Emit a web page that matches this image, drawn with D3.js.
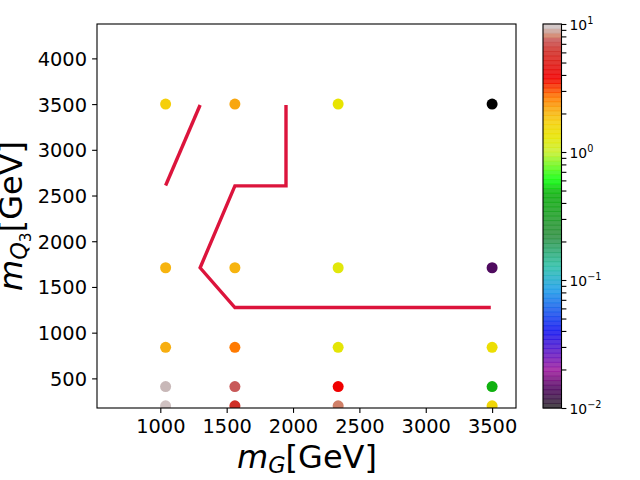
<!DOCTYPE html>
<html>
<head>
<meta charset="utf-8">
<script src="https://d3js.org/d3.v7.min.js"></script>
<style>
    html, body { margin: 0; padding: 0; background: #fff; }
    svg { display: block; font-family: "DejaVu Sans", sans-serif; }
    .domain, .tick line { stroke: #000; stroke-width: 1.1px; }
</style>
</head>
<body>
<div id="chart"></div>
<script>
// grid of the scan
const massG = [1040, 1562, 2340, 3500];
const massQ3 = [3500, 1710, 840, 410, 200];

// colour value, one row per massQ3, one column per massG
const values = [
    [1.72, 2.19, 1.35, 0.008],
    [2.04, 2.04, 1.26, 0.014],
    [2.11, 2.69, 1.30, 1.45],
    [9.33, 7.59, 3.80, 0.48],
    [9.66, 6.17, 8.13, 1.58]
];

// exclusion contour, two separate pieces
const contourLeft = [[1040, 2610], [1300, 3490]];
const contourRight = [[1947, 3490], [1947, 2605], [1562, 2605], [1300, 1710], [1562, 1275], [3490, 1275]];

const xTicks = [1000, 1500, 2000, 2500, 3000, 3500];
const yTicks = [500, 1000, 1500, 2000, 2500, 3000, 3500, 4000];

// colormap stops, position along the log range and colour
const cmapPos = [0, 0.05, 0.1, 0.2, 0.31, 0.37, 0.45, 0.56, 0.595, 0.667, 0.71, 0.745, 0.775, 0.81, 0.86, 0.93, 0.96, 0.97, 0.99, 1];
const cmapCol = ["#303030", "#500a60", "#a020a0", "#1818f0", "#20a0e8", "#30c0a8", "#309040", "#10b010", "#10ff10", "#c8f030",
    "#e8e400", "#f5cf0a", "#f7ae10", "#ff7a00", "#f00000", "#d03028", "#c85858", "#d08068", "#c8b8b8", "#d8cccc"];

const width = 640, height = 480;
const margin = {top: 24, right: 124, bottom: 72, left: 97};

const svg = d3.select("#chart").append("svg")
    .attr("width", width)
    .attr("height", height);

const x = d3.scaleLinear().domain([523, 3680]).range([margin.left, width - margin.right]);
const y = d3.scaleLinear().domain([176, 4376]).range([height - margin.bottom, margin.top]);

const colorLog = d3.scaleLog().domain([0.01, 10]).range([0, 1]);
const colorPos = d3.scaleLinear().domain(cmapPos).range(cmapCol).interpolate(d3.interpolateRgb).clamp(true);
const colorOf = v => v < 0.01 ? "#000" : colorPos(colorLog(v));

svg.append("clipPath").attr("id", "plot-clip")
    .append("rect")
    .attr("x", margin.left)
    .attr("y", margin.top)
    .attr("width", width - margin.right - margin.left)
    .attr("height", height - margin.bottom - margin.top);

// points
const points = massQ3.flatMap((q, i) => massG.map((g, j) => ({g: g, q: q, v: values[i][j]})));
svg.append("g")
    .attr("clip-path", "url(#plot-clip)")
    .selectAll("circle")
    .data(points)
    .enter().append("circle")
    .attr("cx", d => x(d.g))
    .attr("cy", d => y(d.q))
    .attr("r", 5.5)
    .attr("fill", d => colorOf(d.v));

// contour
const line = d3.line().x(d => x(d[0])).y(d => y(d[1]));
svg.selectAll(".contour")
    .data([contourLeft, contourRight])
    .enter().append("path")
    .attr("class", "contour")
    .attr("d", line)
    .attr("fill", "none")
    .attr("stroke", "#dc143c")
    .attr("stroke-width", 3.4)
    .attr("stroke-linejoin", "miter");

// axes
svg.append("rect")
    .attr("x", margin.left)
    .attr("y", margin.top)
    .attr("width", width - margin.right - margin.left)
    .attr("height", height - margin.bottom - margin.top)
    .attr("fill", "none")
    .attr("stroke", "#000")
    .attr("stroke-width", 1.1);

const xAxis = svg.append("g")
    .attr("transform", `translate(0, ${height - margin.bottom})`)
    .call(d3.axisBottom(x).tickValues(xTicks).tickSize(4.9).tickSizeOuter(0).tickFormat(d3.format("d")));
const yAxis = svg.append("g")
    .attr("transform", `translate(${margin.left}, 0)`)
    .call(d3.axisLeft(y).tickValues(yTicks).tickSize(4.9).tickSizeOuter(0).tickFormat(d3.format("d")));

[xAxis, yAxis].forEach(a => {
    a.selectAll(".domain").remove();
    a.selectAll("text")
        .attr("font-family", '"DejaVu Sans"')
        .attr("font-size", 19.4)
        .attr("fill", "#000");
});
xAxis.selectAll("text").attr("y", 8).attr("dy", "0.9em");
yAxis.selectAll("text").attr("x", -10).attr("dy", "0.36em");

// axis labels
const xLabel = svg.append("text")
    .attr("x", 307)
    .attr("y", 468)
    .attr("text-anchor", "middle")
    .attr("font-size", 32);
xLabel.append("tspan").attr("font-style", "italic").text("m");
xLabel.append("tspan").attr("font-style", "italic").attr("font-size", 22.4).attr("dy", 5).text("G");
xLabel.append("tspan").attr("dy", -5).text("[GeV]");

const yLabel = svg.append("text")
    .attr("transform", "translate(22, 216) rotate(-90)")
    .attr("text-anchor", "middle")
    .attr("font-size", 32);
yLabel.append("tspan").attr("font-style", "italic").text("m");
yLabel.append("tspan").attr("font-style", "italic").attr("font-size", 22.4).attr("dy", 5).text("Q");
yLabel.append("tspan").attr("font-size", 15.5).attr("dy", 4).text("3");
yLabel.append("tspan").attr("dy", -9).text("[GeV]");

// colorbar
const barLeft = 543, barWidth = 18.5;
const barScale = d3.scaleLog().domain([0.01, 10]).range([408, 24]);
const barSteps = d3.range(0, 84);
const barStep = 384 / barSteps.length;

svg.append("g")
    .selectAll("rect")
    .data(barSteps)
    .enter().append("rect")
    .attr("x", barLeft)
    .attr("y", d => 408 - (d + 1) * barStep - 0.5)
    .attr("width", barWidth)
    .attr("height", barStep + 1)
    .attr("fill", d => colorPos((d + 0.5) / barSteps.length))
    .attr("fill-opacity", 0.88);

svg.append("rect")
    .attr("x", barLeft)
    .attr("y", 24)
    .attr("width", barWidth)
    .attr("height", 384)
    .attr("fill", "none")
    .attr("stroke", "#000")
    .attr("stroke-width", 1.1);

const decades = [-2, -1, 0, 1];
const barTicks = decades.flatMap(e => e === 1 ? [10] : d3.range(1, 10).map(m => +(m * Math.pow(10, e)).toFixed(3)));
const barAxis = svg.append("g")
    .attr("transform", `translate(${barLeft + barWidth}, 0)`)
    .call(d3.axisRight(barScale).tickValues(barTicks).tickSize(4.9).tickSizeOuter(0).tickFormat(""));
barAxis.selectAll(".domain").remove();

const barLabels = svg.append("g")
    .selectAll("text")
    .data(decades)
    .enter().append("text")
    .attr("x", barLeft + barWidth + 8)
    .attr("y", d => barScale(Math.pow(10, d)) + 6)
    .attr("font-size", 13.9);
barLabels.append("tspan").text("10");
barLabels.append("tspan")
    .attr("font-size", 9.7)
    .attr("dy", -6)
    .text(d => String(d).replace("-", "\u2212"));
</script>
</body>
</html>
